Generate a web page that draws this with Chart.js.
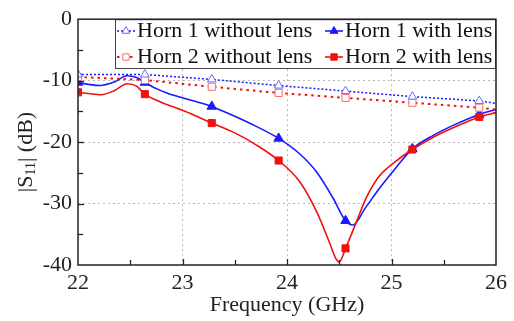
<!DOCTYPE html>
<html>
<head>
<meta charset="utf-8">
<script src="https://cdn.jsdelivr.net/npm/chart.js@4.4.1/dist/chart.umd.min.js"></script>
<style>
  html, body { margin: 0; padding: 0; background: #fff; }
</style>
</head>
<body>
<canvas id="myChart" width="514" height="321"></canvas>
<script>
"use strict";

// frequencies (GHz) where the symbols sit
const markerFreqs = [22.0, 22.64, 23.28, 23.92, 24.56, 25.2, 25.84];

// Horn 1 / Horn 2 without lens (measured at marker points + band edge)
const noLensFreq = [22.0, 22.64, 23.28, 23.92, 24.56, 25.2, 25.84, 26.0];
const horn1NoLens = [-9.0, -9.0, -9.8, -10.8, -11.7, -12.6, -13.3, -13.7];
const horn2NoLens = [-9.4, -9.9, -11.0, -12.0, -12.8, -13.6, -14.4, -14.7];

// Horn 1 with lens
const horn1LensFreq = [22.0, 22.1, 22.21, 22.35, 22.47, 22.56, 22.64, 22.75, 22.85, 23.0, 23.15, 23.28,
  23.5, 23.7, 23.92, 24.12, 24.28, 24.44, 24.56, 24.63, 24.75, 24.9, 25.05, 25.2, 25.4, 25.6, 25.84, 26.0];
const horn1Lens = [-10.3, -10.6, -10.8, -10.2, -9.2, -9.5, -10.3, -11.3, -12.0, -12.8, -13.5, -14.2,
  -15.8, -17.4, -19.4, -21.9, -24.8, -29.1, -32.8, -33.5, -30.7, -27.2, -24.0, -21.1, -18.9, -17.2, -15.5, -14.7];

// Horn 2 with lens
const horn2LensFreq = [22.0, 22.1, 22.22, 22.35, 22.47, 22.56, 22.64, 22.75, 22.85, 23.0, 23.15, 23.28,
  23.5, 23.7, 23.92, 24.12, 24.28, 24.41, 24.46, 24.5, 24.56, 24.65, 24.76, 24.88, 25.05, 25.2, 25.4, 25.6, 25.84, 26.0];
const horn2Lens = [-11.9, -12.1, -12.3, -11.6, -10.5, -10.9, -12.2, -13.2, -13.9, -14.8, -15.9, -16.9,
  -18.5, -20.4, -23.0, -26.4, -31.2, -36.5, -38.7, -39.5, -37.3, -33.6, -29.0, -25.6, -23.0, -21.2, -19.2, -17.6, -15.9, -15.2];

const xTicks = [22, 23, 24, 25, 26];
const yTicks = [0, -10, -20, -30, -40];

const legendLabels = ["Horn 1 without lens", "Horn 1 with lens", "Horn 2 without lens", "Horn 2 with lens"];

const BLUE = "#1a1aff";
const RED = "#f01010";
const BLUE_OPEN = "#6b6bff";
const RED_OPEN = "#ff6a6a";
const FONT = "'Liberation Serif', 'Times New Roman', serif";

function zip(xs, ys) {
  return xs.map((x, i) => ({ x: x, y: ys[i] }));
}

function markerRadius(r) {
  return (c) => (markerFreqs.includes(c.raw.x) ? r : 0);
}

const series = [
  {
    label: legendLabels[0],
    data: zip(noLensFreq, horn1NoLens),
    borderColor: BLUE,
    borderWidth: 1.5,
    borderDash: [2, 2],
    pointStyle: "triangle",
    pointRadius: markerRadius(5),
    pointBackgroundColor: "#fff",
    pointBorderColor: BLUE_OPEN,
    pointBorderWidth: 1,
    tension: 0,
  },
  {
    label: legendLabels[2],
    data: zip(noLensFreq, horn2NoLens),
    borderColor: RED,
    borderWidth: 2,
    borderDash: [2.5, 4],
    pointStyle: "rect",
    pointRadius: markerRadius(5),
    pointBackgroundColor: "#fff",
    pointBorderColor: RED_OPEN,
    pointBorderWidth: 1,
    tension: 0,
  },
  {
    label: legendLabels[3],
    data: zip(horn2LensFreq, horn2Lens),
    borderColor: RED,
    borderWidth: 1.6,
    pointStyle: "rect",
    pointRadius: markerRadius(5),
    pointBackgroundColor: RED,
    pointBorderColor: RED,
    pointBorderWidth: 1,
    cubicInterpolationMode: "monotone",
  },
  {
    label: legendLabels[1],
    data: zip(horn1LensFreq, horn1Lens),
    borderColor: BLUE,
    borderWidth: 1.6,
    pointStyle: "triangle",
    pointRadius: markerRadius(5.5),
    pointBackgroundColor: BLUE,
    pointBorderColor: BLUE,
    pointBorderWidth: 1,
    cubicInterpolationMode: "monotone",
  },
];

// plot frame, inward ticks, legend box and axis titles
const decorPlugin = {
  id: "decor",
  afterDraw(chart) {
    const ctx = chart.ctx;
    const a = chart.chartArea;
    const sx = chart.scales.x;
    const sy = chart.scales.y;
    ctx.save();

    ctx.strokeStyle = "#222";
    ctx.lineWidth = 1.3;
    ctx.setLineDash([]);
    for (let v = 22.5; v < 26; v += 0.5) {
      const x = Math.round(sx.getPixelForValue(v)) + 0.5;
      const len = Number.isInteger(v) ? 6 : 5;
      ctx.beginPath();
      ctx.moveTo(x, a.bottom);
      ctx.lineTo(x, a.bottom - len);
      ctx.stroke();
    }
    for (let v = -35; v < 0; v += 5) {
      const y = Math.round(sy.getPixelForValue(v)) + 0.5;
      const len = v % 10 === 0 ? 6 : 5;
      ctx.beginPath();
      ctx.moveTo(a.left, y);
      ctx.lineTo(a.left + len, y);
      ctx.stroke();
    }

    // legend box
    const lx = 115;
    const ly = a.top;
    const lb = 68;
    ctx.fillStyle = "#fff";
    ctx.fillRect(lx, ly, a.right - lx, lb - ly);
    ctx.strokeStyle = "#444";
    ctx.lineWidth = 1;
    ctx.strokeRect(lx + 0.5, ly + 0.5, a.right - lx - 1, lb - ly);

    const rows = [30, 56];
    const cols = [{ l0: 117, l1: 135, m: 126, t: 137 }, { l0: 325, l1: 343, m: 334, t: 345 }];
    const entries = [
      { ds: series[0], col: 0, row: 0 },
      { ds: series[3], col: 1, row: 0 },
      { ds: series[1], col: 0, row: 1 },
      { ds: series[2], col: 1, row: 1 },
    ];
    ctx.font = "22px " + FONT;
    ctx.textBaseline = "middle";
    ctx.textAlign = "left";
    for (const e of entries) {
      const c = cols[e.col];
      const y = rows[e.row];
      ctx.strokeStyle = e.ds.borderColor;
      ctx.lineWidth = e.ds.borderWidth;
      ctx.setLineDash(e.ds.borderDash || []);
      ctx.beginPath();
      ctx.moveTo(c.l0, y + 1);
      ctx.lineTo(c.l1, y + 1);
      ctx.stroke();
      ctx.setLineDash([]);
      ctx.fillStyle = e.ds.pointBackgroundColor;
      ctx.strokeStyle = e.ds.pointBorderColor;
      ctx.lineWidth = 1;
      Chart.helpers.drawPoint(ctx, { pointStyle: e.ds.pointStyle, radius: 4.5, rotation: 0, borderWidth: 1 }, c.m, y + 1);
      ctx.fillStyle = "#111";
      ctx.fillText(e.ds.label, c.t, y + 1);
    }

    // plot frame
    ctx.strokeStyle = "#222";
    ctx.lineWidth = 1.5;
    ctx.strokeRect(a.left, a.top, a.right - a.left, a.bottom - a.top);

    // x title
    ctx.fillStyle = "#222";
    ctx.font = "22px " + FONT;
    ctx.textAlign = "center";
    ctx.textBaseline = "middle";
    ctx.fillText("Frequency (GHz)", (a.left + a.right) / 2, 305);

    // y title |S11| (dB), rotated
    ctx.translate(26, 152);
    ctx.rotate(-Math.PI / 2);
    const big = "22px " + FONT;
    const small = "14px " + FONT;
    const parts = [
      { t: "|S", f: big, dy: 0 },
      { t: "11", f: small, dy: 5 },
      { t: "| (dB)", f: big, dy: 0 },
    ];
    let total = 0;
    for (const p of parts) {
      ctx.font = p.f;
      total += ctx.measureText(p.t).width;
    }
    let px = -total / 2;
    ctx.textAlign = "left";
    for (const p of parts) {
      ctx.font = p.f;
      ctx.fillText(p.t, px, p.dy);
      px += ctx.measureText(p.t).width;
    }
    ctx.restore();
  },
};

const ctx = document.getElementById("myChart").getContext("2d");
const myChart = new Chart(ctx, {
  type: "line",
  data: { datasets: series },
  options: {
    responsive: false,
    animation: false,
    events: [],
    layout: { padding: { top: 15, right: 18, left: 0, bottom: 0 } },
    plugins: { legend: { display: false }, tooltip: { enabled: false } },
    scales: {
      x: {
        type: "linear",
        min: xTicks[0],
        max: xTicks[xTicks.length - 1],
        afterBuildTicks: (s) => { s.ticks = xTicks.map((v) => ({ value: v })); },
        afterFit: (s) => { s.height = 56; },
        ticks: { padding: 5, color: "#222", font: { size: 22, family: FONT }, maxRotation: 0 },
        grid: {
          drawTicks: false,
          color: (c) => (c.tick && (c.tick.value === 22 || c.tick.value === 26) ? "rgba(0,0,0,0)" : "#b8b8b8"),
          lineWidth: 1,
        },
        border: { display: false, dash: [2, 3] },
      },
      y: {
        min: yTicks[yTicks.length - 1],
        max: yTicks[0],
        afterBuildTicks: (s) => { s.ticks = yTicks.slice().reverse().map((v) => ({ value: v })); },
        afterFit: (s) => { s.width = 78; },
        ticks: { padding: 6, color: "#222", font: { size: 22, family: FONT } },
        grid: {
          drawTicks: false,
          color: (c) => (c.tick && (c.tick.value === 0 || c.tick.value === -40) ? "rgba(0,0,0,0)" : "#b8b8b8"),
          lineWidth: 1,
        },
        border: { display: false, dash: [2, 3] },
      },
    },
  },
  plugins: [decorPlugin],
});
</script>
</body>
</html>
